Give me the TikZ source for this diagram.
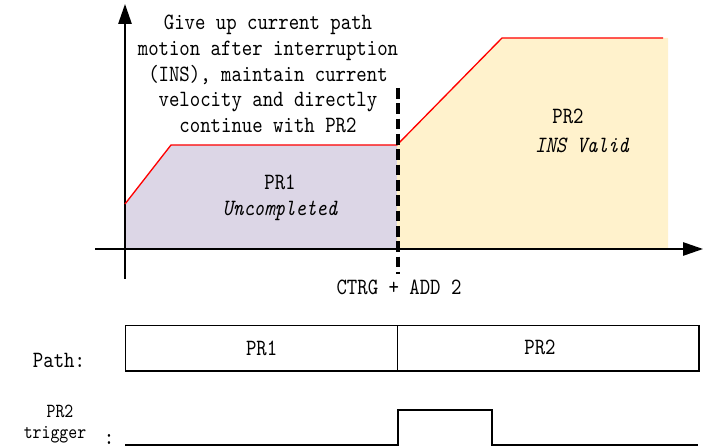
\documentclass[tikz,border=0pt]{standalone}
\usepackage{fontspec}
\newfontfamily\schrift{lmmono10}[Extension=.otf, UprightFont=*-regular, ItalicFont=*-italic, FakeStretch=0.85]
\usetikzlibrary{arrows.meta, positioning}
\definecolor{lilas}{HTML}{DCD6E6}
\definecolor{creme}{HTML}{FFF2CC}
\definecolor{rouge}{HTML}{FF0000}

\begin{document}
\begin{tikzpicture}[x=0.75pt, y=-0.75pt,
    font=\schrift\fontsize{17.5}{19.3}\selectfont,
    axe/.style={line width=1.3pt, -{Triangle[length=15pt, width=10pt]}},
    penche/.style={font=\schrift\itshape\fontsize{17.5}{19.3}\selectfont},
    petit/.style={font=\schrift\fontsize{15}{15}\selectfont, inner sep=0pt},
    piste/.style={line width=1pt}]
    \useasboundingbox (0,0) rectangle (703,448);
    % zones remplies
    \fill[lilas] (125,204) -- (171,145) -- (397,145) -- (397,249) -- (125,249) -- cycle;
    \fill[creme] (397,145) -- (502,38) -- (668,38) -- (668,249) -- (397,249) -- cycle;
    % axes
    \coordinate (ybas) at (125,279);
    \coordinate (yhaut) at (125,4);
    \coordinate (xgauche) at (95,249);
    \coordinate (xdroite) at (703,249);
    \draw[axe] (ybas) -- (yhaut);
    \draw[axe] (xgauche) -- (xdroite);
    % profil de vitesse
    \draw[rouge, line width=1pt] (125,204) -- (171,145) -- (397,145) -- (502,38) -- (663,38);
    \node[align=center] (note) at (268,74) {Give up current path\\motion after interruption\\(INS), maintain current\\velocity and directly\\continue with PR2};
    \node (prun) at (280,182) {PR1};
    \node[penche] (prunetat) at (280,211) {Uncompleted};
    \node (prdeux) at (568,116) {PR2};
    \node[penche] (prdeuxetat) at (582,145) {INS Valid};
    % interruption
    \coordinate (ctrghaut) at (398,88);
    \coordinate (ctrgbas) at (398,274);
    \draw[line width=2.5pt, dash pattern=on 8pt off 3.5pt] (ctrghaut) -- (ctrgbas);
    \node (ctrg) at (399,287) {CTRG + ADD 2};
    % chemin
    \node[piste, draw, minimum width=204pt, minimum height=34pt, anchor=north west] (cheminun) at (125,325) {};
    \node[piste, draw, minimum width=226pt, minimum height=34pt, anchor=north west] (chemindeux) at (397,325) {};
    \node at (cheminun.center) {PR1};
    \node at (540,347) {PR2};
    \node (chemin) at (59,360) {Path:};
    % declenchement
    \draw[line width=1.3pt] (125,445) -- (398,445) -- (398,410) -- (492,410) -- (492,445) -- (698,445);
    \node[petit, anchor=base] (declenche) at (60,418) {PR2};
    \node[petit, anchor=base] (declenchebis) at (55,439) {trigger};
    \node (deuxpoints) at (109,439) {:};
\end{tikzpicture}
\end{document}
